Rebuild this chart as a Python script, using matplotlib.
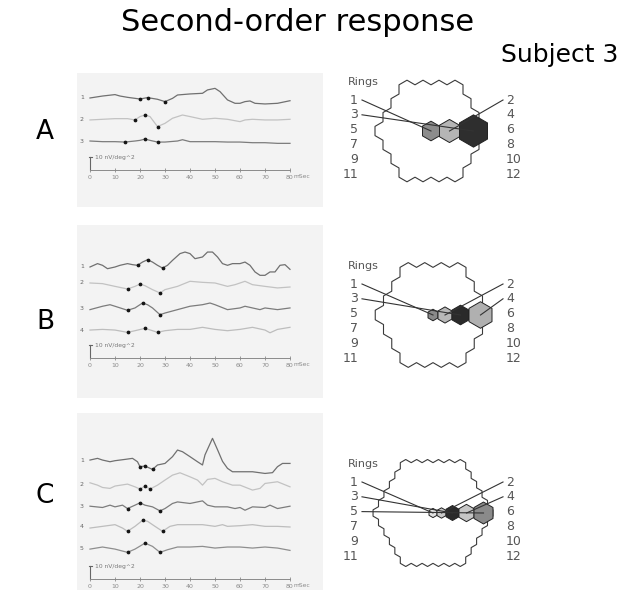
import numpy as np
import matplotlib
matplotlib.use("Agg")
import matplotlib.pyplot as plt
from matplotlib.patches import Polygon, Rectangle

# ---- second-order kernels (nV/deg^2 vs. mSec) ----
A1_ms = [0, 5, 10, 12, 15, 20, 23, 27, 30, 33, 35, 40, 45, 47, 50, 52, 55, 58, 60, 62, 64, 66, 70, 75, 77, 80]
A1_nv = [0, 1.5, 2.6, 1.5, 0.5, -0.8, 0.3, -1.0, -2.8, -0.3, 2.3, 3.1, 3.6, 6.2, 7.4, 4.9, -1.5, -4.1, -4.1, -2.8, -2.3, -4.1, -4.6, -4.1, -3.3, -2.1]
A1_marks = [20, 23, 30]
A2_ms = [0, 5, 10, 15, 18, 20, 22, 24, 27, 30, 33, 37, 40, 45, 50, 55, 60, 62, 65, 70, 75, 80]
A2_nv = [0, 0.5, 1.0, 1.0, 0, 2.6, 3.8, 2.6, -5.1, -2.6, 1.3, 3.8, 2.6, 0.5, 1.3, 0.5, -1.3, 0, 0.5, 0, 0, 0.5]
A2_marks = [18, 22, 27]
A3_ms = [0, 5, 10, 14, 18, 20, 22, 24, 27, 30, 35, 37, 40, 45, 50, 55, 60, 65, 70, 75, 80]
A3_nv = [0, -0.5, -0.5, -0.8, 0, 0.5, 1.5, 0.5, -0.8, -0.8, 0, 1.0, -0.5, -0.5, -0.5, -0.8, -0.8, -1.3, -1.3, -1.8, -1.8]
A3_marks = [14, 22, 27]

B1_ms = [0, 3, 5, 7, 10, 12, 15, 17, 19, 21, 23, 25, 27, 29, 31, 33, 36, 38, 40, 42, 45, 47, 49, 51, 53, 55, 57, 60, 62, 64, 66, 68, 70, 72, 74, 76, 78, 80]
B1_nv = [0, 2.6, 1.3, -1.3, 0, 1.3, 2.6, 1.8, 1.3, 3.8, 5.6, 3.8, 1.3, -0.8, 1.3, 5.1, 10.3, 11.5, 10.3, 6.4, 7.7, 11.5, 11.5, 7.7, 2.6, 1.3, 2.6, 2.6, 3.8, 1.3, -3.8, -6.4, -6.4, -3.8, -3.8, 1.3, 1.8, -1.8]
B1_marks = [19, 23, 29]
B2_ms = [0, 5, 10, 15, 18, 20, 22, 25, 28, 30, 35, 40, 45, 50, 55, 58, 60, 62, 65, 70, 75, 80]
B2_nv = [0, -0.5, -2.6, -4.6, -2.6, -0.8, -2.1, -5.1, -7.7, -5.1, -2.6, 1.3, 0.5, 0, -2.6, -1.3, 0, 1.3, -1.3, -2.6, -3.8, -3.1]
B2_marks = [15, 20, 28]
B3_ms = [0, 5, 8, 10, 15, 18, 21, 23, 25, 28, 30, 35, 40, 45, 48, 50, 55, 60, 62, 65, 68, 70, 75, 80]
B3_nv = [-0.5, 2.1, 3.3, 2.1, -1.0, 0.8, 4.6, 3.3, 0.8, -4.4, -3.1, -0.5, 2.1, 3.3, 4.6, 3.3, -0.5, 0.8, 2.1, 0.8, -0.5, 0.8, -0.5, 0.8]
B3_marks = [15, 21, 28]
B4_ms = [0, 5, 10, 15, 18, 22, 25, 27, 30, 35, 40, 45, 50, 55, 60, 65, 70, 72, 75, 80]
B4_nv = [0, 0.5, 0, -1.8, -0.5, 1.3, -0.5, -1.8, -0.5, 0.5, 0.5, 2.1, 0.5, -0.5, 0.5, 2.1, 0, -2.1, 0.5, 2.1]
B4_marks = [15, 22, 27]

C1_ms = [0, 3, 5, 8, 10, 14, 17, 19, 20, 22, 25, 27, 30, 33, 35, 37, 40, 43, 45, 46, 49, 51, 53, 55, 57, 60, 65, 70, 73, 75, 77, 80]
C1_nv = [0, 1.3, 0, -1.3, -0.5, 0.5, 1.3, -1.3, -5.1, -4.6, -7.2, -3.8, -2.6, 2.6, 7.7, 6.4, 2.6, -1.3, -3.8, 4.0, 16.7, 8.0, -1.0, -6.4, -9.0, -9.0, -9.0, -10.3, -9.7, -5.1, -2.6, -2.6]
C1_marks = [20, 22, 25]
C2_ms = [0, 3, 5, 8, 10, 15, 18, 20, 22, 24, 27, 30, 33, 36, 40, 43, 45, 47, 50, 53, 57, 60, 65, 68, 70, 75, 80]
C2_nv = [1.0, -0.8, -2.6, -3.3, -1.5, 0, -2.1, -3.8, -1.5, -3.8, -0.8, 3.1, 6.9, 8.7, 5.6, 3.1, -0.8, 3.6, 4.4, 1.8, -0.8, -0.8, -4.6, -3.3, 0.5, 1.8, -2.1]
C2_marks = [20, 22, 24]
C3_ms = [0, 5, 8, 10, 13, 15, 18, 20, 22, 25, 28, 30, 33, 35, 40, 45, 47, 50, 55, 58, 60, 62, 65, 70, 72, 75, 80]
C3_nv = [0, -1.0, 0.8, -0.5, 0.8, -1.8, 0.8, 2.6, 0.8, -0.5, -3.6, -1.8, 2.1, 3.3, 2.1, 4.1, 0.8, -0.5, -0.5, -1.8, -1.0, -3.1, -0.5, -1.0, 0.8, -1.8, 0]
C3_marks = [15, 20, 28]
C4_ms = [0, 5, 10, 13, 15, 18, 21, 23, 26, 29, 32, 35, 40, 45, 50, 53, 55, 60, 65, 70, 75, 80]
C4_nv = [-0.8, 0.5, 1.8, -0.8, -3.3, 0.5, 5.1, 4.4, 0.5, -3.3, 0.5, 1.8, 1.8, 1.8, 0.5, 1.8, 0.5, 1.0, 1.8, 0.5, 0.5, 0]
C4_marks = [15, 21, 29]
C5_ms = [0, 5, 10, 15, 18, 22, 25, 28, 31, 35, 40, 45, 50, 55, 60, 65, 70, 75, 80]
C5_nv = [-0.8, 0.8, -0.8, -3.3, -0.8, 3.8, 1.3, -3.3, -1.3, 0.8, 0.8, 1.3, 0, 0.8, 0.8, 0, 0.8, 0, -1.8]
C5_marks = [15, 22, 28]

time_ticks = [0, 10, 20, 30, 40, 50, 60, 70, 80]
ring_labels = [str(i) for i in range(1, 13)]

# response hexagons per ring (size ~ ring scaling, grey level ~ amplitude)
A_ring_size = [17, 20, 28]
A_ring_shade = ['#8c8c8c', '#b5b5b5', '#2e2e2e']
B_ring_size = [10, 14, 17, 23]
B_ring_shade = ['#8a8a8a', '#b8b8b8', '#2a2a2a', '#b0b0b0']
C_ring_size = [8, 9, 13, 15, 19]
C_ring_shade = ['#e2e2e2', '#c8c8c8', '#2a2a2a', '#c6c6c6', '#8a8a8a']

W, H = 634, 590
PX_PER_NV = 1.3
TRACE_COLORS = ['#707070', '#c2c2c2', '#7c7c7c', '#bdbdbd', '#8e8e8e']

fig = plt.figure(figsize=(W / 100, H / 100), dpi=100)
ov = fig.add_axes([0, 0, 1, 1])
ov.set_xlim(0, W)
ov.set_ylim(H, 0)
ov.axis('off')

ov.text(298, 31, 'Second-order response', fontsize=22, ha='center', va='baseline')
ov.text(560, 62, 'Subject 3', fontsize=18, ha='center', va='baseline')

# paper-coloured panels behind the traces
for top, bot in [(73, 207), (225, 398), (413, 590)]:
    ov.add_patch(Rectangle((77, top), 246, bot - top, color='#f3f3f3', lw=0))


def trace_panel(top, axis_y, traces, offsets):
    h = axis_y - top
    ax = fig.add_axes([90 / W, 1 - axis_y / H, 200 / W, h / H])
    ax.set_xlim(0, 80)
    ax.set_ylim(0, h / PX_PER_NV)
    ax.patch.set_alpha(0)
    for side in ['left', 'right', 'top']:
        ax.spines[side].set_visible(False)
    ax.spines['bottom'].set_color('#8a8a8a')
    ax.spines['bottom'].set_linewidth(0.7)
    ax.set_yticks([])
    ax.set_xticks(time_ticks)
    ax.tick_params(axis='x', direction='inout', length=2.5, width=0.6,
                   colors='#8a8a8a', labelsize=4.5, pad=2)
    for i, ((t, v, m), off) in enumerate(zip(traces, offsets)):
        y = np.array(v) + off
        ax.plot(t, y, color=TRACE_COLORS[i], lw=0.9, clip_on=False)
        ax.plot(m, np.interp(m, t, y), 'o', color='#151515', ms=1.7, clip_on=False)
        ax.text(-3.2, off, str(i + 1), fontsize=4.5, color='#666666', ha='center', va='center')
    # calibration bar
    ax.plot([0, 0], [0, 10], color='#666666', lw=0.8, clip_on=False)
    ax.plot([-0.6, 0.6], [10, 10], color='#666666', lw=0.8, clip_on=False)
    ax.text(2, 9.3, '10 nV/deg^2', fontsize=4.3, color='#777777', va='center')
    ax.annotate('mSec', xy=(81.5, 0), xytext=(0, -3.2), textcoords='offset points',
                ha='left', va='top', fontsize=4.3, color='#8a8a8a', annotation_clip=False)
    return ax


trace_panel(73, 170,
            [(A1_ms, A1_nv, A1_marks), (A2_ms, A2_nv, A2_marks), (A3_ms, A3_nv, A3_marks)],
            [55.4, 38.5, 22.3])
trace_panel(225, 358,
            [(B1_ms, B1_nv, B1_marks), (B2_ms, B2_nv, B2_marks), (B3_ms, B3_nv, B3_marks),
             (B4_ms, B4_nv, B4_marks)],
            [70, 57.7, 37.7, 21.5])
trace_panel(413, 579,
            [(C1_ms, C1_nv, C1_marks), (C2_ms, C2_nv, C2_marks), (C3_ms, C3_nv, C3_marks),
             (C4_ms, C4_nv, C4_marks), (C5_ms, C5_nv, C5_marks)],
            [91.5, 73, 56, 40, 23.8])


def hex_pts(cx, cy, w):
    s = w / np.sqrt(3)
    a = np.radians(30 + 60 * np.arange(6))
    return np.column_stack([cx + s * np.cos(a), cy + s * np.sin(a)])


def mosaic_outline(radius, w):
    # outer boundary of a hexagonal array of pointy-top hexagons
    s = w / np.sqrt(3)
    count = {}
    for q in range(-radius, radius + 1):
        for r in range(-radius, radius + 1):
            if abs(q + r) > radius:
                continue
            pts = [tuple(np.round(p, 3)) for p in hex_pts(w * (q + r / 2), 1.5 * s * r, w)]
            for k in range(6):
                e = frozenset((pts[k], pts[(k + 1) % 6]))
                count[e] = count.get(e, 0) + 1
    nbr = {}
    for e, n in count.items():
        if n == 1:
            p, q2 = tuple(e)
            nbr.setdefault(p, []).append(q2)
            nbr.setdefault(q2, []).append(p)
    start = next(iter(nbr))
    path, prev, cur = [start], None, start
    while True:
        nxt = [p for p in nbr[cur] if p != prev][0]
        if nxt == start:
            break
        path.append(nxt)
        prev, cur = cur, nxt
    return np.array(path)


def ring_diagram(cx, cy, radius, w, sizes, shades):
    outline = mosaic_outline(radius, w) + [cx, cy]
    ov.add_patch(Polygon(outline, closed=True, fill=False, ec='#3a3a3a', lw=0.8))
    centres = []
    x = cx
    for i, (sz, sh) in enumerate(zip(sizes, shades)):
        if i > 0:
            x += (sizes[i - 1] + sz) / 2
        centres.append(x)
        ov.add_patch(Polygon(hex_pts(x, cy, sz), closed=True, fc=sh, ec='#222222', lw=0.7))
    y0 = cy - 31
    ov.text(348, y0 - 18, 'Rings', fontsize=8, color='#555555', ha='left', va='center')
    for k, lab in enumerate(ring_labels):
        row = k // 2
        ly = y0 + 14.8 * row
        if k % 2 == 0:
            ov.text(358, ly, lab, fontsize=9, color='#555555', ha='right', va='center')
            sx = 362
        else:
            ov.text(506, ly, lab, fontsize=9, color='#555555', ha='left', va='center')
            sx = 503
        if k < len(sizes):
            ov.plot([sx, centres[k]], [ly, cy], color='#333333', lw=0.8)


ring_diagram(431, 131, 3, 16, A_ring_size, A_ring_shade)
ring_diagram(433, 315, 3, 16.5, B_ring_size, B_ring_shade)
ring_diagram(433, 513, 5, 10.9, C_ring_size, C_ring_shade)

for lab, y in [('A', 132), ('B', 322), ('C', 496)]:
    ov.text(45, y, lab, fontsize=19, ha='center', va='center')

fig.savefig('out.png', dpi=100)
